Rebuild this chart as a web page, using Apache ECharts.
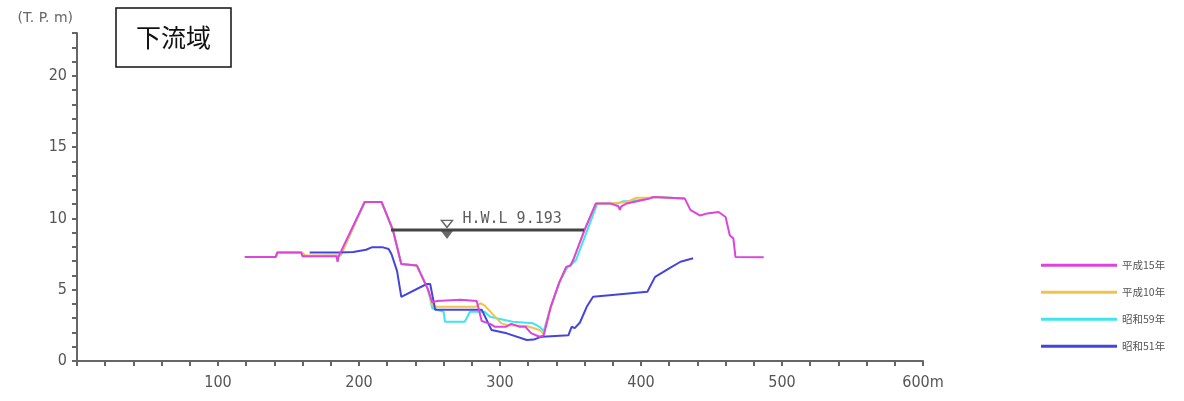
<!DOCTYPE html>
<html>
<head>
<meta charset="utf-8">
<script src="https://cdn.jsdelivr.net/npm/echarts@6/dist/echarts.min.js"></script>
<style>
html,body{margin:0;padding:0;background:#fff;}
#chart{width:1184px;height:401px;}
</style>
</head>
<body>
<div id="chart"></div>
<script>
// Series names (legend order)
const seriesNames = ['平成15年', '平成10年', '昭和59年', '昭和51年'];

// 平成15年 cross-section [distance (m), elevation (T.P.m)]
const h15 = [
  [119,7.3],[141,7.3],[142,7.6],[159,7.6],[160,7.35],[184,7.35],[184.8,6.95],[185.6,7.35],[187,7.4],
  [204,11.15],[216,11.15],[224,9.2],[230,6.8],[241,6.7],[249,5.0],[252,4.1],[255,4.2],[272,4.3],
  [283.5,4.2],[287,2.8],[293,2.6],[296.5,2.4],[304,2.4],[308,2.6],[314,2.4],[318,2.4],[322,1.95],
  [328,1.7],[331,1.8],[336,3.8],[342,5.5],[347,6.6],[350,6.7],[352,7.1],[360,9.2],[368,11.05],
  [378,11.05],[384,10.85],[385,10.6],[386,10.85],[390,11.05],[406,11.4],[409,11.5],[431,11.4],
  [435,10.6],[442,10.2],[447,10.35],[455,10.45],[460,10.1],[463,8.8],[465.5,8.6],[467,7.3],[487,7.27]
];

// 平成10年
const h10 = [
  [119,7.3],[141,7.3],[142,7.6],[160,7.6],[162,7.4],[184,7.4],[187,7.4],
  [204,11.15],[216,11.15],[224,9.2],[230,6.8],[241,6.7],[249,5.0],[252,3.9],[255,3.8],[283,3.8],
  [286,4.05],[289,3.9],[296.5,3.1],[301,2.64],[306,2.5],[319,2.45],[328,2.17],[331,1.9],[336,3.8],
  [342,5.5],[347,6.6],[350,6.7],[352,7.1],[360,9.2],[368,11.05],[378,11.05],[390,11.15],
  [397,11.45],[406,11.45],[409,11.5],[431,11.4]
];

// 昭和59年
const s59 = [
  [119,7.3],[141,7.3],[142,7.6],[159,7.6],[160,7.35],[187,7.4],
  [204,11.15],[216,11.15],[224,9.2],[230,6.8],[241,6.7],[249,5.0],[252,3.7],[260,3.45],[261,2.75],
  [275,2.75],[278.7,3.45],[289,3.45],[293,3.1],[297.6,3.0],[309,2.75],[323.5,2.64],[328,2.4],
  [331,2.1],[336,3.8],[342,5.5],[348,6.6],[351,6.8],[354,7.1],[362,9.2],[369,11.05],[384,11.05],
  [387,11.2],[393,11.2],[406,11.4],[409,11.5],[431,11.4]
];

// 昭和51年
const s51 = [
  [165,7.6],[186.5,7.6],[196,7.65],[205,7.8],[209,7.97],[217,7.97],[221,7.85],[223,7.5],[227,6.3],
  [230,4.5],[248,5.4],[250.5,5.4],[254,3.6],[287,3.6],[294,2.17],[304.8,1.94],[319,1.47],[324,1.5],
  [328,1.66],[330,1.7],[348.5,1.8],[350.8,2.4],[353,2.3],[356.7,2.7],[361.5,3.8],[366,4.5],
  [404.5,4.86],[410,5.9],[420,6.5],[428,6.96],[437,7.2]
];

// High water level
const hwlValue = 9.193;
const hwlLine = [[222.7, 9.193], [359.6, 9.193]];
const hwlMarkX = [262.4];
const hwlLabel = 'H.W.L 9.193';

const colors = {
  '平成15年': '#dd44dd',
  '平成10年': '#f0c24e',
  '昭和59年': '#3fe4f0',
  '昭和51年': '#4545dc'
};

const chart = echarts.init(document.getElementById('chart'), null, {renderer: 'canvas'});

function lineSeries(name, data, z) {
  return {
    name: name, type: 'line', data: data, symbol: 'none', z: z,
    lineStyle: {color: colors[name], width: 2},
    itemStyle: {color: colors[name]},
    animation: false
  };
}

const axisFont = "'Liberation Sans Narrow','DejaVu Sans Condensed','Liberation Sans',sans-serif";

const option = {
  backgroundColor: '#fff',
  animation: false,
  title: {
    text: '下流域',
    left: 116, top: 8,
    padding: [17, 20, 17, 20],
    borderColor: '#111', borderWidth: 1.5,
    textStyle: {fontSize: 25, fontWeight: 'normal', color: '#111', fontFamily: "'Noto Sans CJK JP',sans-serif"}
  },
  legend: {
    orient: 'vertical',
    left: 1036, top: 255,
    icon: 'rect',
    itemWidth: 76, itemHeight: 3, itemGap: 16.5,
    data: seriesNames,
    textStyle: {fontSize: 10.5, color: '#555', fontFamily: "'Noto Sans CJK JP',sans-serif"}
  },
  grid: {left: 77, right: 261, top: 33, bottom: 40},
  xAxis: {
    type: 'value', min: 0, max: 600, interval: 20,
    axisLine: {lineStyle: {color: '#666', width: 2}},
    axisTick: {length: 5, lineStyle: {color: '#666', width: 2}},
    splitLine: {show: false},
    axisLabel: {
      margin: 14, fontSize: 16, color: '#555', fontFamily: axisFont,
      formatter: function (v) {
        if (v === 0 || v % 100 !== 0) return '';
        return v === 600 ? '600m' : String(v);
      }
    }
  },
  yAxis: {
    type: 'value', min: 0, max: 23, interval: 1,
    name: '(T. P. m)',
    nameGap: 8,
    nameTextStyle: {align: 'right', padding: [0, 4, 0, 0], fontSize: 14, color: '#666', fontFamily: "'DejaVu Sans',sans-serif"},
    axisLine: {lineStyle: {color: '#666', width: 2}},
    axisTick: {length: 5, lineStyle: {color: '#666', width: 2}},
    splitLine: {show: false},
    axisLabel: {
      margin: 10, fontSize: 16, color: '#555', fontFamily: axisFont,
      formatter: function (v) { return v % 5 === 0 ? String(v) : ''; }
    }
  },
  series: [
    lineSeries('昭和59年', s59, 2),
    lineSeries('平成10年', h10, 3),
    lineSeries('昭和51年', s51, 4),
    lineSeries('平成15年', h15, 5),
    {
      name: 'HWL', type: 'line', data: hwlLine, symbol: 'none', z: 6,
      lineStyle: {color: '#444', width: 3}, silent: true
    },
    {
      name: 'HWLmarkTop', type: 'scatter', z: 7, silent: true,
      data: hwlMarkX.map(x => [x, hwlValue]),
      symbol: 'path://M0,0 L10,0 L5,6 Z',
      symbolSize: [11, 7], symbolOffset: [0, -6],
      itemStyle: {color: '#fff', borderColor: '#444', borderWidth: 1.5},
      label: {
        show: true, position: 'right', distance: 9, offset: [0, -5],
        formatter: hwlLabel, fontSize: 15, color: '#333',
        fontFamily: "'DejaVu Sans Mono','Liberation Mono',monospace"
      }
    },
    {
      name: 'HWLmarkBottom', type: 'scatter', z: 7, silent: true,
      data: hwlMarkX.map(x => [x, hwlValue]),
      symbol: 'path://M0,0 L10,0 L5,7 Z',
      symbolSize: [12, 8], symbolOffset: [0, 5],
      itemStyle: {color: '#444'}
    }
  ]
};
chart.setOption(option);
</script>
</body>
</html>
